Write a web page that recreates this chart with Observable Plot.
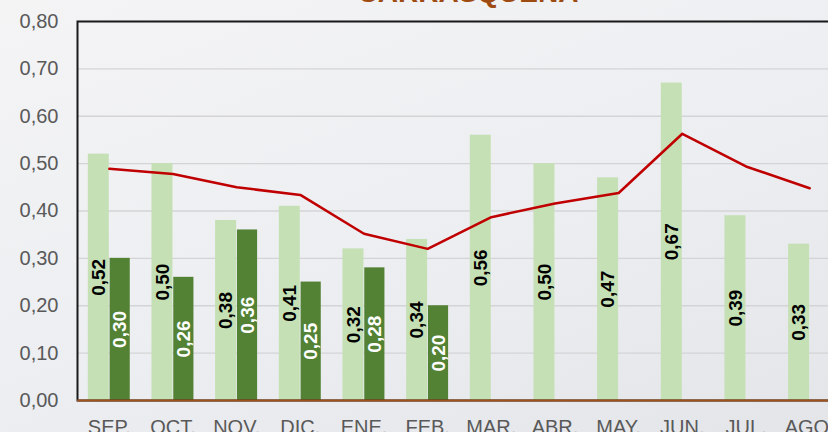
<!DOCTYPE html>
<html>
<head>
<meta charset="utf-8">
<script src="https://cdn.jsdelivr.net/npm/d3@7"></script>
<script src="https://cdn.jsdelivr.net/npm/@observablehq/plot@0.6"></script>
<style>
  html, body { margin: 0; padding: 0; }
  body { width: 828px; height: 432px; overflow: hidden; position: relative;
         background: linear-gradient(160deg, #f4f4f5 0%, #eceef1 55%, #e4e5e9 100%);
         font-family: "Liberation Sans", Arial, sans-serif; }
  #title { position: absolute; left: 0; width: 936px; top: -21px; text-align: center;
           font: bold 28px "Liberation Sans", Arial, sans-serif; color: #9E4B12; line-height: 28px; }
  #chart { position: absolute; left: 0; top: 0; }
</style>
</head>
<body>
<div id="title">CARRASQUEÑA</div>
<div id="chart"></div>
<script>
const months = ["SEP.", "OCT.", "NOV.", "DIC.", "ENE.", "FEB.", "MAR.", "ABR.", "MAY.", "JUN.", "JUL.", "AGO."];
const lightValues = [0.52, 0.50, 0.38, 0.41, 0.32, 0.34, 0.56, 0.50, 0.47, 0.67, 0.39, 0.33];
const darkValues = [0.30, 0.26, 0.36, 0.25, 0.28, 0.20];
const lineValues = [0.489, 0.478, 0.450, 0.434, 0.352, 0.320, 0.387, 0.416, 0.438, 0.563, 0.494, 0.448];
const yTicks = [0, 0.1, 0.2, 0.3, 0.4, 0.5, 0.6, 0.7, 0.8];

const light = months.map((m, i) => ({month: m, value: lightValues[i]}));
const dark = darkValues.map((v, i) => ({month: months[i], value: v}));
const line = months.map((m, i) => ({month: m, value: lineValues[i]}));
const fmt = v => d3.format(".2f")(v).replace(".", ",");

const plot = Plot.plot({
  width: 828,
  height: 432,
  marginLeft: 77,
  marginRight: -6,
  marginTop: 21,
  marginBottom: 32,
  style: {background: "transparent", fontFamily: "'Liberation Sans', Arial, sans-serif"},
  x: {domain: months, range: [77, 841], padding: 0, round: false, label: null, tickSize: 0, tickPadding: 19},
  y: {domain: [0, 0.8], ticks: yTicks, label: null, tickSize: 0, tickPadding: 19, tickFormat: fmt},
  marks: [
    Plot.gridY(yTicks, {stroke: "#d4d4d6", strokeOpacity: 1, strokeWidth: 1.3}),
    Plot.barY(light, {x: "month", y: "value", fill: "#C5E0B4", insetLeft: 10.8, insetRight: 31.9}),
    Plot.barY(dark, {x: "month", y: "value", fill: "#548235", insetLeft: 32.6, insetRight: 10.9}),
    Plot.lineY(line, {x: "month", y: "value", stroke: "#C00000", strokeWidth: 2.5}),
    Plot.text(light, {x: "month", y: d => d.value / 2, text: d => fmt(d.value), rotate: -90,
      dx: -10.5, fill: "#000", fontSize: 19, fontWeight: "bold"}),
    Plot.text(dark, {x: "month", y: d => d.value / 2, text: d => fmt(d.value), rotate: -90,
      dx: 11, fill: "#fff", fontSize: 19, fontWeight: "bold"}),
    Plot.frame({stroke: "#1a1a1a", strokeWidth: 2}),
    Plot.ruleY([0], {stroke: "#A0521C", strokeWidth: 1.8}),
    Plot.axisY({ticks: yTicks, tickFormat: fmt, tickSize: 0, tickPadding: 19, fontSize: 20, fill: "#595959", label: null}),
    Plot.axisX({tickSize: 0, tickPadding: 19, fontSize: 20, fill: "#595959", label: null})
  ]
});
document.getElementById("chart").appendChild(plot);
</script>
</body>
</html>
